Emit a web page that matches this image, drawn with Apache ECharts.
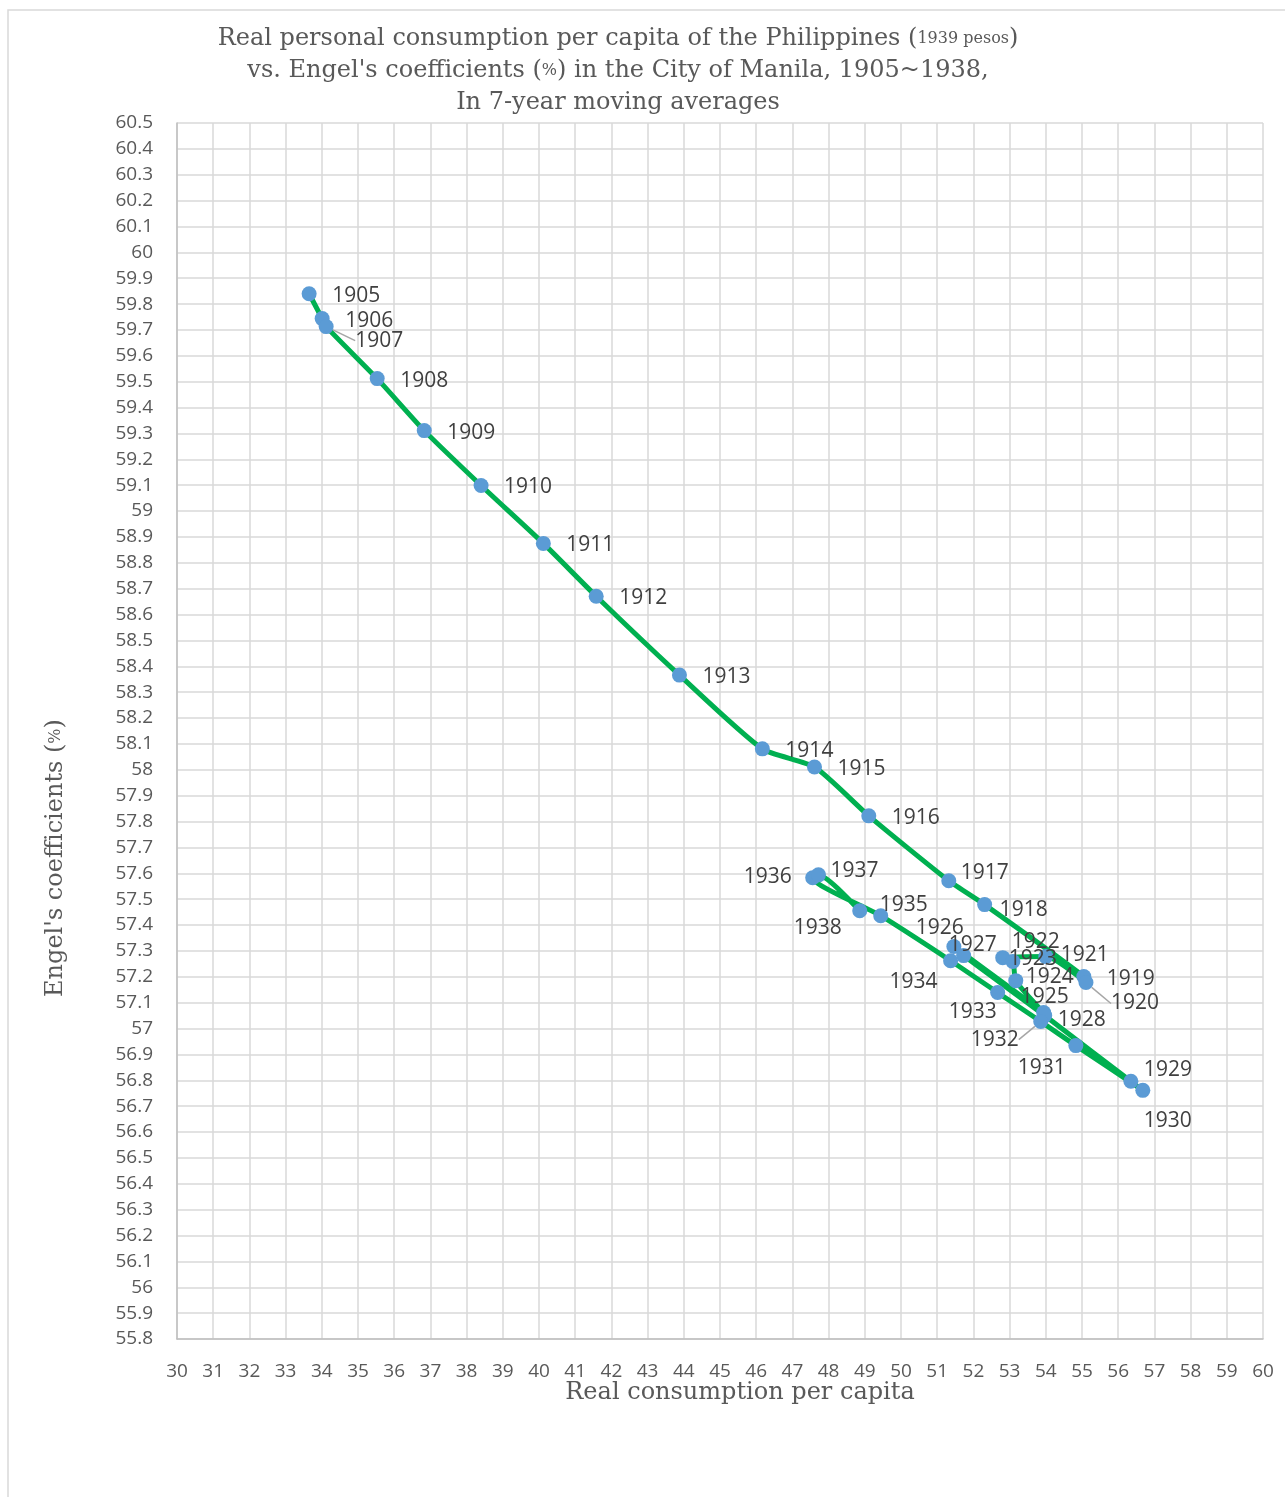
<!DOCTYPE html>
<html>
<head>
<meta charset="utf-8">
<script src="https://cdn.jsdelivr.net/npm/echarts@6/dist/echarts.min.js"></script>
<style>
html,body{margin:0;padding:0;background:#fff;}
#chart{width:1285px;height:1497px;}
</style>
</head>
<body>
<div id="chart"></div>
<script>
// ---- data ----
const years = [1905,1906,1907,1908,1909,1910,1911,1912,1913,1914,1915,1916,1917,1918,1919,1920,1921,1922,1923,1924,1925,1926,1927,1928,1929,1930,1931,1932,1933,1934,1935,1936,1937,1938];
const consumption = [33.65,34.01,34.12,35.53,36.83,38.40,40.12,41.58,43.88,46.17,47.61,49.11,51.32,52.31,55.05,55.11,54.00,52.81,53.09,53.17,53.94,51.46,51.73,53.97,56.35,56.68,54.83,53.86,52.67,51.37,49.44,47.56,47.72,48.86];
const engel = [59.840,59.744,59.713,59.512,59.311,59.099,58.875,58.671,58.366,58.081,58.011,57.822,57.571,57.479,57.201,57.178,57.278,57.274,57.259,57.185,57.062,57.317,57.282,57.050,56.796,56.761,56.934,57.027,57.139,57.262,57.436,57.583,57.594,57.455];
const xTickRange = {min: 30, max: 60, step: 1};
const yTickRange = {min: 55.8, max: 60.5, step: 0.1};
const titleLines = ["Real personal consumption per capita of the Philippines ", "(", "1939 pesos", ")", "vs. Engel's coefficients ", "(", "%", ")", " in the City of Manila, 1905~1938,", "In 7-year moving averages"];
const xTitle = "Real consumption per capita";
const yTitle = "Engel's coefficients ";
const yTitleUnit = "%";

// ---- styling / label placement ----
const defaultOff = [23, 2];
const labelOff = {
  1907:[29,14],1917:[12,-8],1918:[15,5],1920:[25,21],1921:[15,-2],1922:[9,-16],1923:[-4,-3],
  1924:[10,-4],1925:[-23,-15],1926:[-38,-19],1927:[-15,-11],1928:[13,4],1929:[13,-11],
  1930:[1,31],1931:[-58,22],1932:[-70,18],1933:[-49,19],1934:[-61,21],1935:[-1,-11],
  1936:[-69,-1],1937:[12,-4],1938:[-66,17]
};
const leaderYears = [1907,1920,1932];

const pts = years.map((y,i)=>[consumption[i], engel[i]]);
const scatterData = years.map((y,i)=>{
  const d = {value: pts[i], name: String(y)};
  if (leaderYears.indexOf(y) >= 0) d.labelLine = {show: true};
  return d;
});

const serif = "'DejaVu Serif', 'Liberation Serif', serif";
const sans = "'Open Sans', 'Noto Sans', sans-serif";
const T = titleLines;

const chart = echarts.init(document.getElementById('chart'), null, {renderer: 'canvas'});
chart.setOption({
  backgroundColor: '#ffffff',
  animation: false,
  title: {
    left: 613, top: 18, textAlign: 'center',
    text: '{a|' + T[0] + '}{a|' + T[1] + '}{b|' + T[2] + '}{a|' + T[3] + '}\n' +
          '{a|' + T[4] + '}{a|' + T[5] + '}{b|' + T[6] + '}{a|' + T[7] + '}{a|' + T[8] + '}\n' +
          '{a|' + T[9] + '}',
    textStyle: {
      fontFamily: serif, fontWeight: 'normal', color: '#595959', fontSize: 24, lineHeight: 32,
      rich: {
        a: {fontFamily: serif, fontSize: 24, color: '#595959', lineHeight: 32},
        b: {fontFamily: serif, fontSize: 16, color: '#595959', lineHeight: 32}
      }
    }
  },
  grid: {left: 177, right: 22, top: 123, bottom: 158, containLabel: false},
  xAxis: {
    type: 'value', min: xTickRange.min, max: xTickRange.max, interval: xTickRange.step,
    axisLine: {show: true, lineStyle: {color: '#bfbfbf', width: 1.5}},
    axisTick: {show: false},
    axisLabel: {color: '#595959', fontFamily: sans, fontSize: 19, margin: 23},
    splitLine: {show: true, lineStyle: {color: '#d9d9d9', width: 1.5}}
  },
  yAxis: {
    type: 'value', min: yTickRange.min, max: yTickRange.max, interval: yTickRange.step,
    axisLine: {show: true, lineStyle: {color: '#bfbfbf', width: 1.5}},
    axisTick: {show: false},
    axisLabel: {color: '#595959', fontFamily: sans, fontSize: 19, margin: 24,
      formatter: v => String(parseFloat(v.toFixed(1)))},
    splitLine: {show: true, lineStyle: {color: '#d9d9d9', width: 1.5}}
  },
  graphic: [
    {type: 'rect', shape: {x: 8, y: 10, width: 1320, height: 1520}, style: {fill: 'none', stroke: '#d9d9d9', lineWidth: 1.5}, z: -10, silent: true},
    {type: 'text', x: 740, y: 1393, style: {text: xTitle, font: '24px ' + serif, fill: '#595959', textAlign: 'center', textVerticalAlign: 'middle'}},
    {type: 'text', x: 56, y: 858, rotation: Math.PI / 2,
      style: {text: '{a|' + yTitle + '(}{s|' + yTitleUnit + '}{a|)}', fill: '#595959', textAlign: 'center', textVerticalAlign: 'middle',
        rich: {a: {fontFamily: serif, fontSize: 24, fill: '#595959'}, s: {fontFamily: serif, fontSize: 16, fill: '#595959'}}}}
  ],
  series: [
    {
      type: 'line', data: pts, smooth: 0.2, showSymbol: false, symbol: 'none',
      lineStyle: {color: '#00B050', width: 5}, z: 2, silent: true
    },
    {
      type: 'scatter', data: scatterData, symbolSize: 15, z: 3,
      itemStyle: {color: '#5B9BD5', opacity: 1},
      label: {show: true, position: 'right', distance: 15.5, formatter: '{b}', color: '#404040', fontFamily: sans, fontSize: 21},
      labelLine: {show: false, lineStyle: {color: '#a6a6a6', width: 1.5}},
      labelLayout: function (p) {
        const y = years[p.dataIndex];
        const o = labelOff[y] || defaultOff;
        return {dx: o[0] - defaultOff[0], dy: o[1]};
      }
    }
  ]
});
</script>
</body>
</html>
